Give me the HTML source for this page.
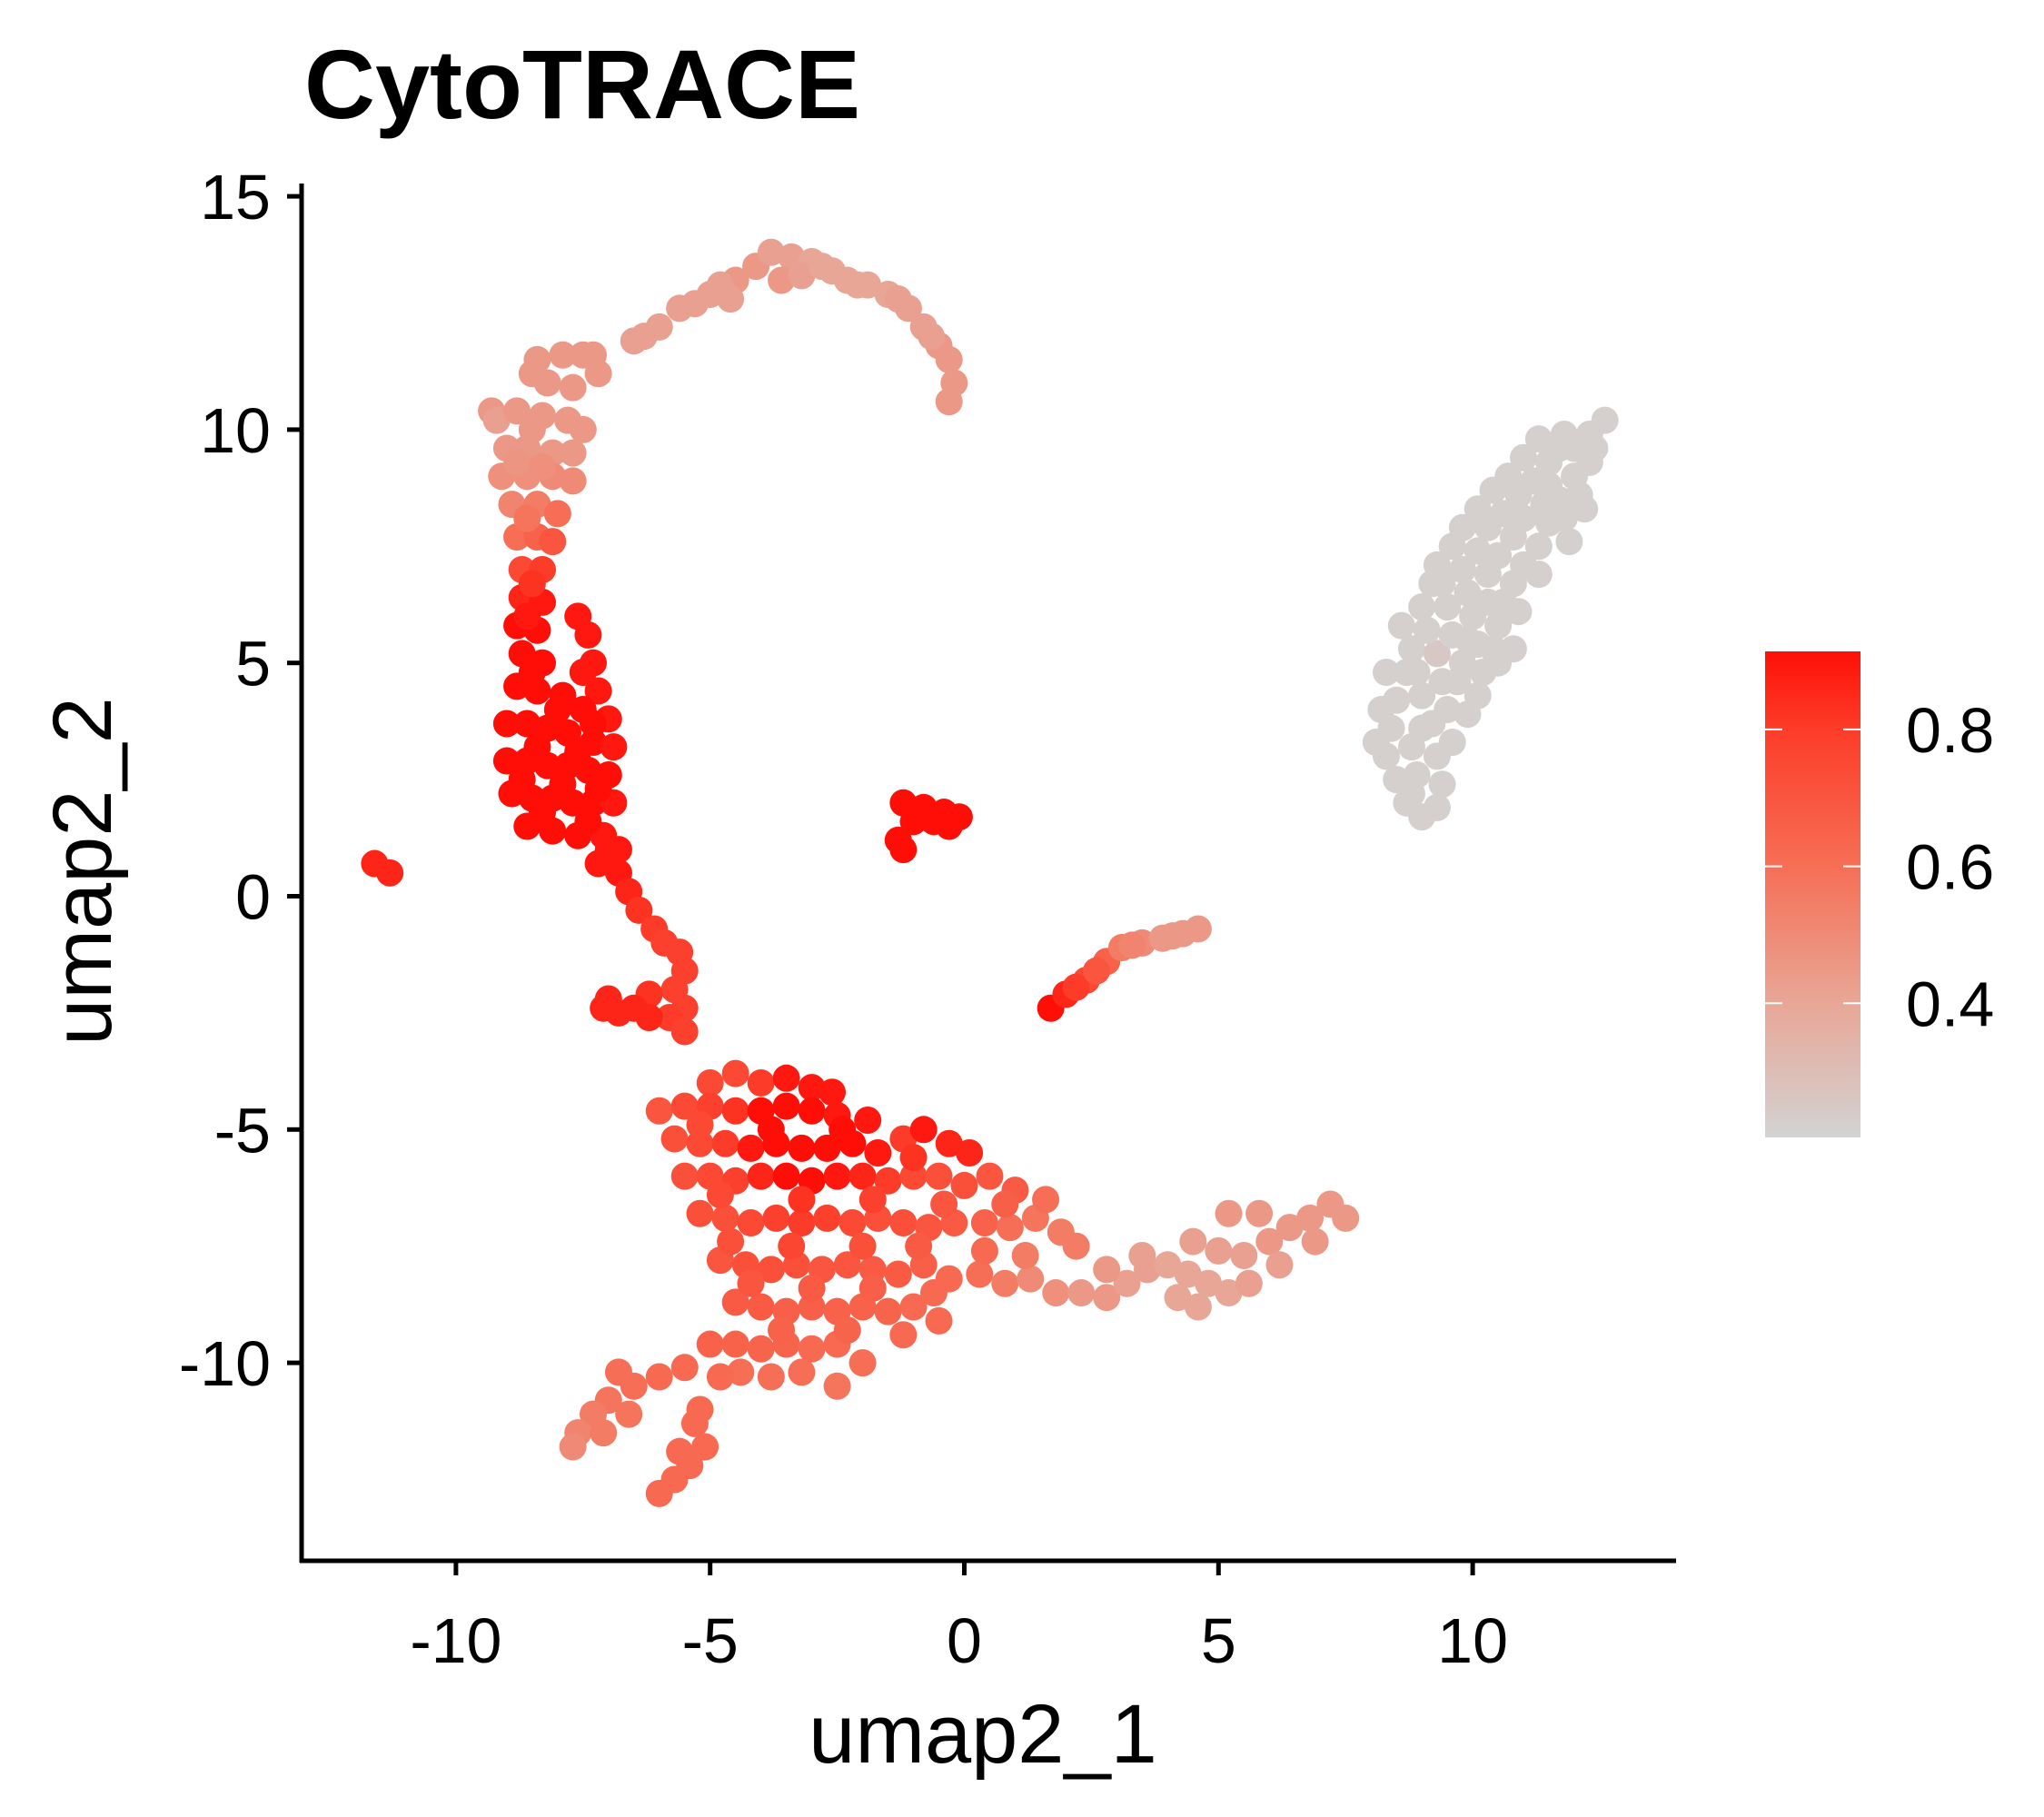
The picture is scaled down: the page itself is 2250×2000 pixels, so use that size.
<!DOCTYPE html>
<html><head><meta charset="utf-8"><style>
html,body{margin:0;padding:0;background:#fff}
svg{display:block;font-family:"Liberation Sans",Arial,sans-serif}
</style></head><body>
<svg id="chart" width="2250" height="2000" viewBox="0 0 2250 2000" xmlns="http://www.w3.org/2000/svg">
<rect width="2250" height="2000" fill="#fff"/>
<text x="335" y="130" font-size="108" font-weight="bold" fill="#000">CytoTRACE</text>
<g id="points"></g>
<g id="axes"></g>
<text x="1082" y="1940" font-size="92" text-anchor="middle">umap2_1</text>
<text transform="translate(122,959) rotate(-90)" font-size="92" text-anchor="middle">umap2_2</text>
<defs><linearGradient id="cbgrad" x1="0" y1="1" x2="0" y2="0">
<stop offset="0" stop-color="#d3d3d3"/><stop offset="0.28" stop-color="#e8a696"/>
<stop offset="0.56" stop-color="#f66e55"/><stop offset="0.84" stop-color="#fc3c28"/><stop offset="1" stop-color="#ff1008"/>
</linearGradient></defs>
<g id="legend"></g>
</svg>
<script>
const xTicks=[-10,-5,0,5,10];
const yTicks=[15,10,5,0,-5,-10];
const cbTicks=[0.8,0.6,0.4];
const cbMin=0.204, cbMax=0.914;
// data: [umap1, umap2, cytotrace]
const grayCluster=[[8.7,2.0,0.22],[9.0,1.7,0.22],[8.3,3.0,0.22],[8.8,3.2,0.22],[9.3,3.0,0.22],[8.5,4.2,0.22],[9.0,4.3,0.22],[9.5,4.0,0.22],[9.9,3.9,0.22],[8.8,5.3,0.22],[9.3,5.2,0.25],[9.8,5.0,0.22],[10.2,4.8,0.22],[9.0,6.2,0.22],[9.5,6.2,0.22],[10.0,6.0,0.22],[10.5,5.8,0.22],[9.3,7.1,0.22],[9.8,7.0,0.22],[10.3,6.9,0.22],[10.8,6.7,0.22],[9.8,7.9,0.22],[10.3,7.9,0.22],[10.8,7.7,0.22],[11.3,7.5,0.22],[10.4,8.7,0.22],[10.9,8.6,0.22],[11.4,8.4,0.22],[11.8,8.1,0.22],[11.0,9.4,0.22],[11.5,9.3,0.22],[12.0,9.0,0.22],[11.8,9.9,0.22],[12.3,9.9,0.22],[12.6,10.2,0.22],[12.3,9.3,0.22],[8.5,2.5,0.22],[9.4,2.4,0.22],[9.7,4.6,0.22],[10.1,5.4,0.22],[9.6,5.6,0.22],[10.6,6.3,0.22],[11.0,7.1,0.22],[10.1,7.4,0.22],[11.5,8.0,0.22],[10.6,8.2,0.22],[12.1,8.6,0.22],[11.2,8.9,0.22],[9.2,3.7,0.22],[8.7,4.8,0.22],[8.1,3.3,0.22],[8.2,4.0,0.22],[8.3,4.8,0.22],[8.6,5.8,0.22],[10.8,5.3,0.22],[10.5,5.0,0.22],[10.9,6.1,0.22],[11.3,6.9,0.22],[9.4,6.7,0.22],[11.9,7.6,0.22],[12.2,8.3,0.22],[11.7,9.6,0.22],[9.3,1.9,0.22],[8.9,2.6,0.22],[8.4,3.6,0.22],[9.0,3.6,0.22],[9.6,3.3,0.22],[8.9,4.8,0.22],[9.4,4.6,0.22],[10.1,4.3,0.22],[9.1,5.7,0.22],[9.9,5.5,0.22],[10.4,5.3,0.22],[9.2,6.7,0.22],[9.9,6.5,0.22],[10.3,6.3,0.22],[9.6,7.5,0.22],[10.5,7.3,0.22],[10.1,8.3,0.22],[11.0,8.1,0.22],[10.7,9.0,0.22],[11.5,8.8,0.22],[11.3,9.8,0.22],[12.0,9.6,0.22],[12.4,9.6,0.22],[11.7,8.5,0.22],[8.8,2.2,0.22]];
const topArc=[[-9.3,10.4,0.45],[-8.5,11.2,0.45],[-7.5,11.6,0.45],[-6.5,11.9,0.42],[-6.0,12.2,0.42],[-5.6,12.6,0.42],[-5.0,12.9,0.42],[-4.5,13.2,0.45],[-4.1,13.5,0.45],[-3.8,13.8,0.42],[-3.4,13.7,0.42],[-3.0,13.6,0.4],[-2.6,13.4,0.4],[-2.3,13.2,0.4],[-1.9,13.1,0.4],[-1.5,12.9,0.4],[-1.1,12.6,0.42],[-0.8,12.2,0.42],[-0.5,11.8,0.45],[-0.3,11.5,0.45],[-0.2,11.0,0.45],[-0.3,10.6,0.45],[-4.6,12.8,0.42],[-3.6,13.2,0.45],[-3.2,13.3,0.42],[-6.3,12.0,0.42],[-5.3,12.7,0.42],[-4.8,13.1,0.42],[-2.8,13.5,0.4],[-2.1,13.1,0.4],[-1.3,12.8,0.42],[-0.65,12.0,0.42]];
const leftColumn=[[-9.2,10.2,0.42],[-8.8,10.4,0.45],[-8.3,10.3,0.45],[-7.8,10.2,0.45],[-7.5,10.0,0.45],[-8.4,11.5,0.45],[-7.9,11.6,0.45],[-7.3,11.6,0.45],[-8.2,11.0,0.45],[-7.7,10.9,0.45],[-7.2,11.2,0.45],[-9.0,9.6,0.45],[-8.6,9.6,0.45],[-8.1,9.5,0.45],[-7.7,9.5,0.45],[-9.1,9.0,0.48],[-8.6,9.0,0.48],[-8.1,9.0,0.5],[-7.7,8.9,0.5],[-8.9,8.4,0.52],[-8.4,8.4,0.55],[-8.0,8.2,0.6],[-8.8,7.7,0.6],[-8.4,7.7,0.65],[-8.1,7.6,0.7],[-8.7,7.0,0.75],[-8.3,7.0,0.8],[-8.7,6.4,0.85],[-8.3,6.3,0.88],[-8.8,5.8,0.9],[-8.4,5.7,0.9],[-7.6,6.0,0.88],[-7.4,5.6,0.88],[-7.3,5.0,0.88],[-8.7,5.2,0.9],[-8.3,5.0,0.9],[-7.2,4.4,0.88],[-8.8,4.5,0.9],[-8.4,4.4,0.9],[-7.9,4.3,0.9],[-7.5,4.0,0.9],[-7.0,3.8,0.88],[-9.0,3.7,0.9],[-8.6,3.7,0.9],[-8.2,3.6,0.9],[-7.8,3.5,0.9],[-7.3,3.3,0.9],[-6.9,3.2,0.88],[-9.0,2.9,0.9],[-8.6,2.9,0.9],[-8.2,2.8,0.9],[-7.8,2.8,0.9],[-7.4,2.7,0.9],[-7.0,2.6,0.9],[-8.9,2.2,0.9],[-8.5,2.1,0.9],[-8.1,2.1,0.9],[-7.7,2.0,0.9],[-7.3,2.0,0.9],[-6.9,2.0,0.88],[-8.6,1.5,0.9],[-8.1,1.4,0.9],[-7.6,1.3,0.9],[-7.1,1.3,0.88],[-6.8,1.0,0.88],[-7.2,0.7,0.88],[-6.8,0.5,0.88],[-6.6,0.1,0.85],[-6.4,-0.3,0.82],[-6.1,-0.7,0.8],[-5.9,-1.0,0.78],[-5.6,-1.2,0.78],[-5.5,-1.6,0.78],[-5.7,-2.0,0.78],[-5.5,-2.4,0.78],[-5.8,-2.6,0.8],[-5.5,-2.9,0.78],[-6.2,-2.1,0.82],[-7.1,-2.4,0.85],[-6.8,-2.5,0.85],[-6.5,-2.4,0.85],[-6.2,-2.6,0.85],[-7.0,-2.2,0.85],[-11.6,0.7,0.85],[-11.3,0.5,0.85],[-8.5,10.0,0.45],[-8.8,9.3,0.46],[-8.3,9.2,0.48],[-8.6,8.1,0.58],[-8.5,6.7,0.82],[-8.6,6.0,0.88],[-8.5,4.8,0.9],[-8.0,4.0,0.9],[-7.6,3.1,0.9],[-8.4,3.2,0.9],[-8.7,2.5,0.9],[-7.9,2.4,0.9],[-7.2,2.3,0.9],[-8.3,1.8,0.9],[-7.4,1.6,0.9],[-7.0,1.0,0.88],[-7.5,4.8,0.88],[-7.3,3.7,0.9]];
const smallClusters=[[-1.2,2.0,0.9],[-0.8,1.9,0.9],[-0.4,1.8,0.9],[-0.1,1.7,0.9],[-0.6,1.6,0.9],[-0.3,1.5,0.9],[-1.0,1.6,0.9],[-1.3,1.2,0.9],[-1.2,1.0,0.9],[1.7,-2.4,0.9],[2.0,-2.1,0.85],[2.4,-1.8,0.75],[2.8,-1.4,0.65],[3.1,-1.1,0.55],[3.5,-1.0,0.5],[3.9,-0.9,0.45],[4.3,-0.8,0.45],[4.6,-0.7,0.45],[2.2,-1.95,0.8],[2.6,-1.6,0.7],[3.3,-1.05,0.52],[4.1,-0.85,0.45]];
const bottomMass=[[-5.0,-4.0,0.75],[-4.5,-3.8,0.75],[-4.0,-4.0,0.8],[-3.5,-3.9,0.88],[-3.0,-4.1,0.88],[-2.6,-4.2,0.88],[-6.0,-4.6,0.7],[-5.5,-4.5,0.75],[-5.0,-4.5,0.78],[-4.5,-4.6,0.82],[-4.0,-4.6,0.9],[-3.5,-4.5,0.9],[-3.0,-4.6,0.9],[-2.5,-4.7,0.88],[-1.9,-4.8,0.88],[-5.7,-5.2,0.72],[-5.2,-5.3,0.75],[-4.7,-5.3,0.8],[-4.2,-5.4,0.88],[-3.7,-5.3,0.9],[-3.2,-5.4,0.9],[-2.7,-5.4,0.9],[-2.2,-5.3,0.9],[-1.7,-5.5,0.88],[-1.2,-5.2,0.8],[-0.8,-5.0,0.88],[-0.3,-5.3,0.85],[0.1,-5.5,0.85],[-5.5,-6.0,0.72],[-5.0,-6.0,0.75],[-4.5,-6.1,0.78],[-4.0,-6.0,0.85],[-3.5,-6.0,0.9],[-3.0,-6.1,0.9],[-2.5,-6.0,0.88],[-2.0,-6.0,0.85],[-1.5,-6.1,0.8],[-1.0,-6.0,0.75],[-0.5,-6.0,0.72],[0.0,-6.2,0.72],[0.5,-6.0,0.7],[1.0,-6.3,0.68],[-5.2,-6.8,0.72],[-4.7,-6.9,0.72],[-4.2,-7.0,0.75],[-3.7,-6.9,0.78],[-3.2,-7.0,0.8],[-2.7,-6.9,0.78],[-2.2,-7.0,0.75],[-1.7,-6.9,0.72],[-1.2,-7.0,0.72],[-0.7,-7.1,0.7],[-0.2,-7.0,0.68],[0.4,-7.0,0.65],[0.9,-7.1,0.6],[1.4,-6.9,0.58],[1.9,-7.2,0.55],[2.2,-7.5,0.55],[-4.8,-7.8,0.7],[-4.3,-7.9,0.72],[-3.8,-8.0,0.72],[-3.3,-7.9,0.72],[-2.8,-8.0,0.7],[-2.3,-7.9,0.7],[-1.8,-8.0,0.68],[-1.3,-8.1,0.68],[-0.8,-7.9,0.66],[-0.3,-8.2,0.62],[0.3,-8.1,0.6],[0.8,-8.3,0.55],[1.3,-8.2,0.5],[1.8,-8.5,0.48],[2.3,-8.5,0.45],[2.8,-8.6,0.45],[3.2,-8.3,0.42],[3.6,-8.0,0.42],[4.0,-7.9,0.4],[4.4,-8.1,0.4],[4.8,-8.3,0.4],[5.2,-8.5,0.4],[5.6,-8.3,0.42],[4.2,-8.6,0.4],[5.0,-7.6,0.42],[5.5,-7.7,0.42],[6.0,-7.4,0.45],[5.2,-6.8,0.45],[5.8,-6.8,0.45],[6.4,-7.1,0.45],[6.8,-6.9,0.45],[7.2,-6.6,0.45],[7.5,-6.9,0.45],[3.5,-7.7,0.42],[-4.5,-8.7,0.68],[-4.0,-8.8,0.68],[-3.5,-8.9,0.66],[-3.0,-8.8,0.66],[-2.5,-8.9,0.65],[-2.0,-8.8,0.65],[-1.5,-8.9,0.64],[-1.0,-8.8,0.62],[-0.5,-9.1,0.62],[-5.0,-9.6,0.65],[-4.5,-9.6,0.65],[-4.0,-9.7,0.64],[-3.5,-9.6,0.64],[-3.0,-9.7,0.62],[-2.5,-9.6,0.62],[-2.0,-10.0,0.6],[-5.5,-10.1,0.62],[-3.2,-10.2,0.6],[-2.5,-10.5,0.58],[-6.0,-10.3,0.62],[-6.5,-10.5,0.6],[-7.0,-10.8,0.58],[-7.3,-11.1,0.55],[-7.6,-11.5,0.52],[-7.7,-11.8,0.5],[-7.1,-11.5,0.55],[-6.6,-11.1,0.58],[-5.3,-11.3,0.62],[-5.1,-11.8,0.62],[-5.4,-12.2,0.62],[-5.7,-12.5,0.62],[-6.0,-12.8,0.62],[-4.4,-10.2,0.6],[-4.2,-8.3,0.7],[-3.0,-8.4,0.68],[-1.8,-8.4,0.66],[-0.6,-8.5,0.62],[-3.6,-9.3,0.65],[-2.3,-9.3,0.64],[-1.2,-9.4,0.62],[-4.6,-7.4,0.72],[-3.4,-7.5,0.76],[-2.0,-7.5,0.72],[-0.9,-7.5,0.68],[0.4,-7.6,0.62],[1.2,-7.7,0.55],[2.8,-8.0,0.45],[4.5,-7.4,0.42],[4.6,-8.8,0.4],[6.2,-7.9,0.42],[6.9,-7.4,0.45],[-4.8,-6.4,0.75],[-3.2,-6.5,0.82],[-1.8,-6.5,0.78],[-0.4,-6.6,0.7],[0.8,-6.6,0.66],[1.6,-6.5,0.6],[-5.2,-4.9,0.75],[-3.8,-5.0,0.9],[-2.4,-5.0,0.9],[-1.0,-5.6,0.82],[-6.8,-10.2,0.6],[-4.8,-10.3,0.62],[-3.8,-10.3,0.6],[-5.2,-11.0,0.62],[-5.6,-11.9,0.62]];
const allCells=[grayCluster,topArc,leftColumn,smallClusters,bottomMass];

const NS="http://www.w3.org/2000/svg";
const xS=v=>1061.5+v*55.96;
const yS=v=>986.5-v*51.36;
const stops=[[0.204,[211,211,211]],[0.4,[232,166,150]],[0.6,[246,110,85]],[0.8,[252,60,40]],[0.914,[255,8,4]]];
function col(v){
  if(v<=stops[0][0])return "rgb(211,211,211)";
  for(let i=1;i<stops.length;i++){
    if(v<=stops[i][0]){const a=stops[i-1],b=stops[i];const t=(v-a[0])/(b[0]-a[0]);
      return "rgb("+a[1].map((c,k)=>Math.round(c+(b[1][k]-c)*t)).join(",")+")";}
  }
  return "rgb(255,8,4)";
}
function mk(tag,attrs,parent){const e=document.createElementNS(NS,tag);for(const k in attrs)e.setAttribute(k,attrs[k]);parent.appendChild(e);return e;}
const pg=document.getElementById("points");
allCells.forEach(group=>group.forEach(p=>{
  const c=mk("circle",{cx:xS(p[0]),cy:yS(p[1]),r:15,fill:col(p[2])},pg);
  
  
}));
const ax=document.getElementById("axes");
const yl=mk("line",{x1:332,y1:202,x2:332,y2:1720,stroke:"#000","stroke-width":5},ax);


const xl=mk("line",{x1:330,y1:1718,x2:1845,y2:1718,stroke:"#000","stroke-width":5},ax);


xTicks.forEach(t=>{
  const l=mk("line",{x1:xS(t),y1:1718,x2:xS(t),y2:1734,stroke:"#000","stroke-width":5},ax);
  
  
  const tx=mk("text",{x:xS(t),y:1830,"font-size":70,"text-anchor":"middle"},ax);tx.textContent=t;
  
  
});
yTicks.forEach(t=>{
  const l=mk("line",{x1:316,y1:yS(t),x2:332,y2:yS(t),stroke:"#000","stroke-width":5},ax);
  
  
  const tx=mk("text",{x:298,y:yS(t)+25,"font-size":70,"text-anchor":"end"},ax);tx.textContent=t;
  
  
});
const lg=document.getElementById("legend");
const cbTop=717,cbBot=1252;
const cbY=v=>cbBot-(v-cbMin)/(cbMax-cbMin)*(cbBot-cbTop);
const bar=mk("rect",{x:1943,y:cbTop,width:105,height:cbBot-cbTop,fill:"url(#cbgrad)"},lg);


cbTicks.forEach(t=>{
  const y=cbY(t);
  mk("line",{x1:1943,y1:y,x2:1962,y2:y,stroke:"#fff","stroke-width":2},lg);
  mk("line",{x1:2029,y1:y,x2:2048,y2:y,stroke:"#fff","stroke-width":2},lg);
  const tx=mk("text",{x:2098,y:y+25,"font-size":70},lg);tx.textContent=t.toFixed(1);
  
  
});
</script>
</body></html>
